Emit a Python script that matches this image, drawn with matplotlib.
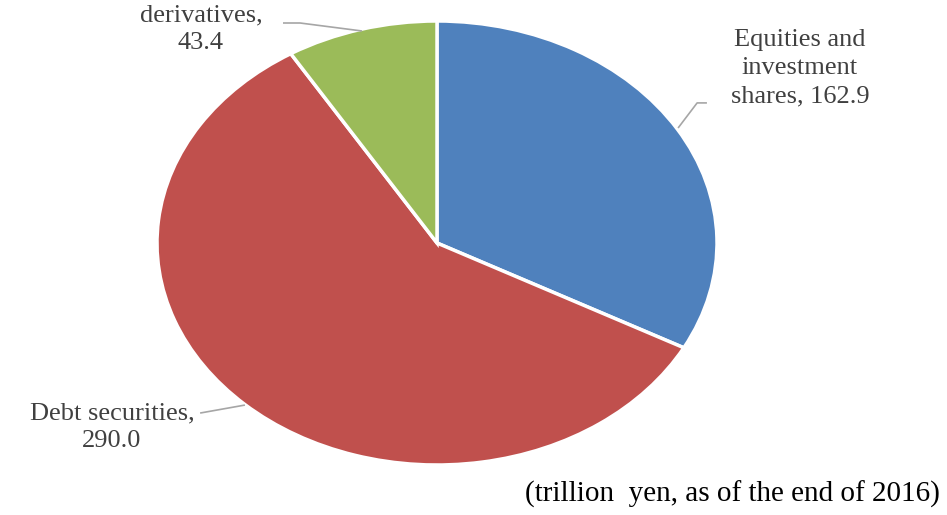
import matplotlib.pyplot as plt

labels = ["Equities and\ninvestment\nshares, 162.9", "Debt securities,\n290.0", "derivatives,\n43.4"]
values = [162.9, 290.0, 43.4]
colors = ["#4F81BD", "#C0504D", "#9BBB59"]

plt.rcParams["font.family"] = ["Liberation Serif", "DejaVu Serif"]

fig = plt.figure(figsize=(9.47, 5.15), dpi=100)
# axes box = bounding box of the (stretched) pie
ax = fig.add_axes([157 / 947, 50 / 515, 560 / 947, 444 / 515])

ax.pie(values, colors=colors, startangle=90, counterclock=False,
       wedgeprops=dict(edgecolor="white", linewidth=2.5))
ax.set_aspect("auto")
ax.set_xlim(-1, 1)
ax.set_ylim(-1, 1)

# leader lines
lc = dict(color="#A6A6A6", lw=1.2, clip_on=False, solid_capstyle="butt")
ax.plot([0.861, 0.929, 0.964], [0.518, 0.631, 0.631], **lc)
ax.plot([-0.846, -0.686], [-0.766, -0.730], **lc)
ax.plot([-0.55, -0.489, -0.268], [0.991, 0.991, 0.955], **lc)

txt = dict(color="#404040", fontsize=19, ha="center", va="center",
           linespacing=1.35, clip_on=False)
ax.text(1.296, 0.788, labels[0], **txt)
ax.text(-1.161, -0.829, labels[1], **txt)
ax.text(-0.843, 0.964, labels[2], **txt)

fig.text(940 / 947, 1 - 502 / 515, "(trillion  yen, as of the end of 2016)",
         ha="right", va="baseline", fontsize=21, color="black")

fig.savefig("out.png", dpi=100)
